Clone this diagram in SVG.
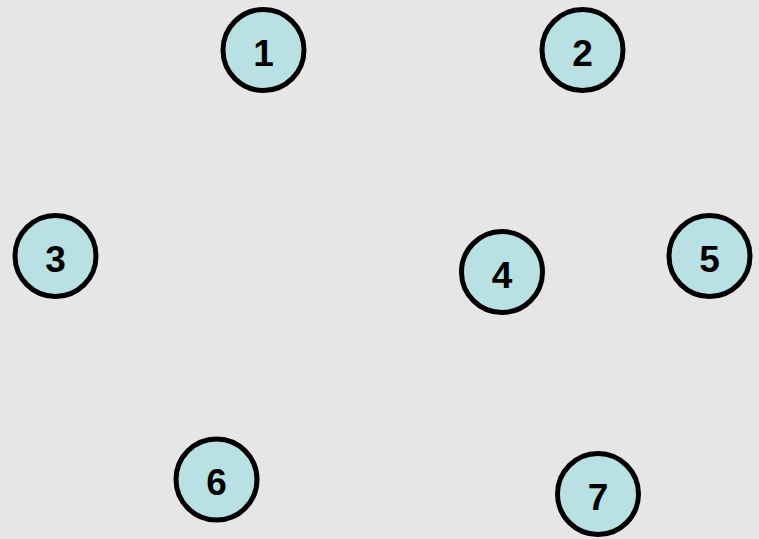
<svg xmlns="http://www.w3.org/2000/svg" width="759" height="539" viewBox="0 0 759 539">
<style>
.node circle{fill:#b9e0e2;stroke:#000;stroke-width:5}
.node text{font-family:"Liberation Sans",Arial,sans-serif;font-weight:bold;font-size:37px;fill:#000;text-anchor:middle;dominant-baseline:central}
</style>
<rect width="759" height="539" fill="#e6e6e6"/>
<g id="connectors"></g>
<g id="node1" class="node"><circle cx="263.5" cy="50" r="40.5"/><text x="263.5" y="53">1</text></g>
<g id="node2" class="node"><circle cx="582.5" cy="50" r="40.5"/><text x="582.5" y="53">2</text></g>
<g id="node3" class="node"><circle cx="55.5" cy="256" r="40.5"/><text x="55.5" y="259">3</text></g>
<g id="node4" class="node"><circle cx="502" cy="272" r="40.5"/><text x="502" y="275">4</text></g>
<g id="node5" class="node"><circle cx="709.5" cy="256" r="40.5"/><text x="709.5" y="259">5</text></g>
<g id="node6" class="node"><circle cx="216.5" cy="479.5" r="40.5"/><text x="216.5" y="482.5">6</text></g>
<g id="node7" class="node"><circle cx="598" cy="494" r="40.5"/><text x="598" y="497">7</text></g>
</svg>
